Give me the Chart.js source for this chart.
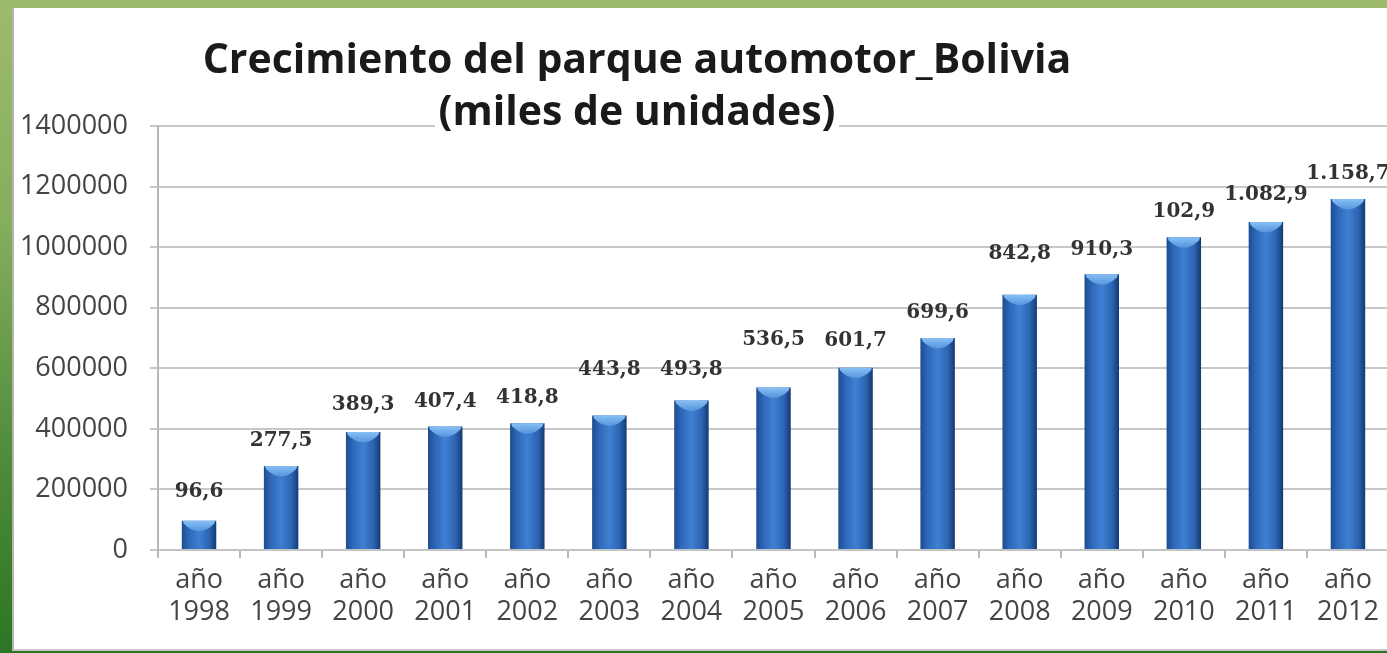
<!DOCTYPE html>
<html>
<head>
<meta charset="utf-8">
<script src="https://cdn.jsdelivr.net/npm/chart.js@4"></script>
<style>
  html, body { margin: 0; padding: 0; width: 1387px; height: 653px; overflow: hidden; }
  body { background: linear-gradient(to bottom, #9dbb6d 0%, #84ad5c 35%, #4f8c3b 70%, #2c7524 100%); position: relative; }
  #panel { position: absolute; left: 12px; top: 8px; width: 1400px; height: 641px; background: #fff;
           border-left: 2px solid #b4b4b4; border-bottom: 2px solid #c8c8c8; }
  #wrap { position: absolute; left: 13px; top: 8px; width: 1380px; height: 642px; }
  #title { position: absolute; left: 0; width: 1274px; top: 31px; text-align: center;
           font-family: "Open Sans", sans-serif; font-weight: 700; font-size: 41px; color: #1a1a1a;
           line-height: 52px; z-index: 2; }
  #title span { background: #fff; padding: 0 4px; }
</style>
</head>
<body>
<div id="panel"></div>
<div id="wrap"><canvas id="chart"></canvas></div>
<div id="title">Crecimiento del parque automotor_Bolivia<br><span>(miles de unidades)</span></div>
<script>
// categories and values (units), labels as printed on the chart
const years = ["1998", "1999", "2000", "2001", "2002", "2003", "2004", "2005", "2006", "2007", "2008", "2009", "2010", "2011", "2012"];
const vehicles = [96600, 277500, 389300, 407400, 418800, 443800, 493800, 536500, 601700, 699600, 842800, 910300, 1032900, 1082900, 1158700];
const valueLabels = ["96,6", "277,5", "389,3", "407,4", "418,8", "443,8", "493,8", "536,5", "601,7", "699,6", "842,8", "910,3", "102,9", "1.082,9", "1.158,7"];
const yTicks = [0, 200000, 400000, 600000, 800000, 1000000, 1200000, 1400000];

// extra lift (px) of some value labels, as placed in the original
const labelLift = [4, 0, 2, 0, 0, 21, 6, 23, 2, 0, 16, 0, 0, 2, 0];

const BAR_PCT = 0.42;

function barGradient(ctx) {
    const chart = ctx.chart;
    const area = chart.chartArea;
    const xScale = chart.scales.x;
    if (!area || !xScale) return "#2f6cbf";
    const cx = xScale.getPixelForValue(ctx.dataIndex);
    const w = (area.width / years.length) * BAR_PCT;
    const g = chart.ctx.createLinearGradient(cx - w / 2, 0, cx + w / 2, 0);
    g.addColorStop(0, "#1d4c8e");
    g.addColorStop(0.2, "#2d67b8");
    g.addColorStop(0.5, "#3f80d2");
    g.addColorStop(0.8, "#2c64b2");
    g.addColorStop(1, "#143a72");
    return g;
}

// light bevel on top of each bar + value labels
const barDecor = {
    id: "barDecor",
    afterDatasetsDraw(chart) {
        const ctx = chart.ctx;
        const meta = chart.getDatasetMeta(0);
        meta.data.forEach((bar, i) => {
            const { x, y, width } = bar.getProps(["x", "y", "width"], true);
            const l = x - width / 2, r = x + width / 2;
            ctx.save();
            const g = ctx.createLinearGradient(0, y, 0, y + 14);
            g.addColorStop(0, "#86c0f4");
            g.addColorStop(1, "#4585d5");
            ctx.fillStyle = g;
            ctx.beginPath();
            ctx.moveTo(l + 1, y);
            ctx.lineTo(r - 1, y);
            ctx.lineTo(r - 2, y + 3);
            ctx.quadraticCurveTo(x, y + 18, l + 2, y + 3);
            ctx.closePath();
            ctx.fill();
            ctx.restore();

            ctx.save();
            ctx.font = "bold 20px 'DejaVu Serif', serif";
            ctx.fillStyle = "#333333";
            ctx.textAlign = "center";
            ctx.textBaseline = "middle";
            ctx.fillText(valueLabels[i], x, y - 25 - labelLift[i]);
            ctx.restore();
        });
    }
};

new Chart(document.getElementById("chart"), {
    type: "bar",
    data: {
        labels: years.map(y => ["año", y]),
        datasets: [{
            data: vehicles,
            backgroundColor: barGradient,
            borderWidth: 0,
            barPercentage: BAR_PCT,
            categoryPercentage: 1
        }]
    },
    options: {
        responsive: true,
        maintainAspectRatio: false,
        animation: false,
        layout: { padding: { top: 118, right: 4, left: 0, bottom: 0 } },
        plugins: {
            legend: { display: false },
            tooltip: { enabled: false }
        },
        scales: {
            x: {
                grid: { offset: true, drawOnChartArea: false, tickLength: 8, color: "#b8b8b8", lineWidth: 2 },
                border: { color: "#c4c4c4", width: 2 },
                ticks: {
                    color: "#444444",
                    font: { family: "'Open Sans', sans-serif", size: 27 },
                    padding: 6,
                    maxRotation: 0,
                    autoSkip: false
                },
                afterFit: s => { s.height = 100; }
            },
            y: {
                min: 0,
                max: 1400000,
                afterBuildTicks: s => { s.ticks = yTicks.map(v => ({ value: v })); },
                grid: { color: "#c8c8c8", lineWidth: 2, tickLength: 8 },
                border: { color: "#b8b8b8", width: 2 },
                ticks: {
                    color: "#444444",
                    font: { family: "'Open Sans', sans-serif", size: 27 },
                    padding: 22,
                    callback: v => String(v)
                },
                afterFit: s => { s.width = 145; }
            }
        }
    },
    plugins: [barDecor]
});
</script>
</body>
</html>
